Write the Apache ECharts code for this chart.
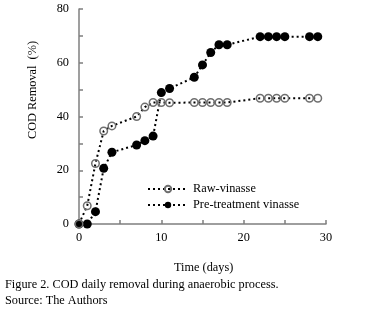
<!DOCTYPE html>
<html>
<head>
<meta charset="utf-8">
<script src="https://cdn.jsdelivr.net/npm/echarts@6/dist/echarts.min.js"></script>
<style>
  html, body { margin: 0; padding: 0; background: #fff; }
  #chart { width: 377px; height: 310px; }
</style>
</head>
<body>
<div id="chart"></div>
<script>
var myChart = echarts.init(document.getElementById('chart'));

// days and COD removal (%)
var rawDays = [0, 1, 2, 3, 4, 7, 8, 9, 10, 11, 14, 15, 16, 17, 18, 22, 23, 24, 25, 28, 29];
var rawValues = [0, 6.8, 22.5, 34.6, 36.5, 40.0, 43.5, 45.2, 45.2, 45.1, 45.2, 45.2, 45.2, 45.2, 45.2, 46.8, 46.8, 46.8, 46.8, 46.8, 46.8];
var preDays = [0, 1, 2, 3, 4, 7, 8, 9, 10, 11, 14, 15, 16, 17, 18, 22, 23, 24, 25, 28, 29];
var preValues = [0, 0, 4.6, 20.7, 26.7, 29.4, 31.0, 32.7, 48.9, 50.4, 54.6, 59.2, 63.8, 66.7, 66.7, 69.7, 69.7, 69.7, 69.7, 69.7, 69.7];
var seriesNames = ['Raw-vinasse', 'Pre-treatment vinasse'];

function pairs(xs, ys) {
    return xs.map(function (x, i) { return [x, ys[i]]; });
}

var font = 'Liberation Serif';

var option = {
    animation: false,
    grid: { left: 79, right: 51, top: 9, bottom: 86 },
    legend: {
        left: 142,
        top: 178,
        orient: 'vertical',
        itemWidth: 40,
        itemHeight: 8,
        itemGap: 4,
        textStyle: { fontFamily: font, fontSize: 12.3, color: '#000' },
        data: seriesNames
    },
    xAxis: {
        type: 'value',
        min: 0,
        max: 30,
        interval: 5,
        axisLine: { lineStyle: { color: '#7f7f7f', width: 1.5 } },
        axisTick: { inside: true, length: 4, lineStyle: { color: '#7f7f7f', width: 1.5 } },
        axisLabel: {
            fontFamily: font, fontSize: 12.3, color: '#000', margin: 8,
            formatter: function (v) { return v % 10 === 0 ? v : ''; }
        },
        splitLine: { show: false }
    },
    yAxis: {
        type: 'value',
        min: 0,
        max: 80,
        interval: 10,
        axisLine: { show: true, lineStyle: { color: '#7f7f7f', width: 1.5 } },
        axisTick: { show: true, inside: true, length: 4, lineStyle: { color: '#7f7f7f', width: 1.5 } },
        axisLabel: {
            fontFamily: font, fontSize: 12.3, color: '#000', margin: 10,
            formatter: function (v) { return v % 20 === 0 ? v : ''; }
        },
        splitLine: { show: false }
    },
    graphic: [
        {
            type: 'text', left: 27, top: 41, rotation: Math.PI / 2,
            style: { text: 'COD Removal  (%)', fontFamily: font, fontSize: 12.3, fill: '#000' }
        },
        {
            type: 'text', left: 174, top: 262,
            style: { text: 'Time (days)', fontFamily: font, fontSize: 12.3, fill: '#000' }
        },
        {
            type: 'text', left: 5, top: 279,
            style: { text: 'Figure 2. COD daily removal during anaerobic process.', fontFamily: font, fontSize: 12.3, fill: '#000' }
        },
        {
            type: 'text', left: 5, top: 295,
            style: { text: 'Source: The Authors', fontFamily: font, fontSize: 12.3, fill: '#000' }
        }
    ],
    series: [
        {
            name: seriesNames[0],
            type: 'line',
            data: pairs(rawDays, rawValues),
            symbol: 'circle',
            symbolSize: 7.5,
            lineStyle: { color: '#000', width: 2, type: [2, 3] },
            itemStyle: { color: 'rgba(255,255,255,0)', borderColor: '#6f6f6f', borderWidth: 1.5 },
            z: 3
        },
        {
            name: seriesNames[1],
            type: 'line',
            data: pairs(preDays, preValues),
            symbol: 'circle',
            symbolSize: 9,
            lineStyle: { color: '#000', width: 2, type: [2, 3] },
            itemStyle: { color: '#000', borderColor: '#000', borderWidth: 0 },
            z: 2
        }
    ]
};

myChart.setOption(option);
</script>
</body>
</html>
